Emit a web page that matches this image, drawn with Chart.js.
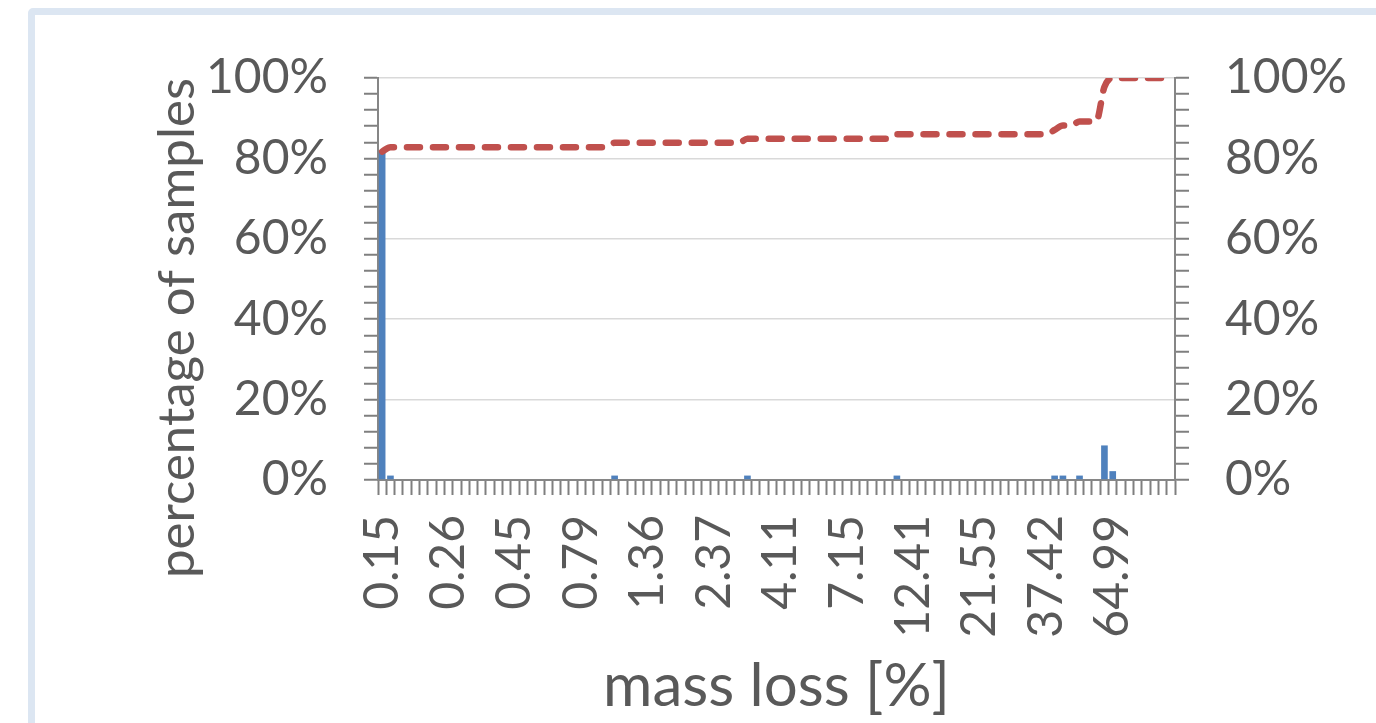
<!DOCTYPE html>
<html>
<head>
<meta charset="utf-8">
<script src="https://cdn.jsdelivr.net/npm/chart.js@4"></script>
<style>
  html, body { margin: 0; padding: 0; background: #fff; overflow: hidden; }
  #frame {
    position: absolute; left: 28px; top: 8px; width: 1420px; height: 800px;
    border: 7px solid #dce6f2; border-radius: 5px; box-sizing: border-box;
  }
  #c { position: absolute; left: 0; top: 0; }
</style>
</head>
<body>
<div id="frame"></div>
<canvas id="c" width="1376" height="723"></canvas>
<script>
// Mass-loss histogram: share of samples per bin (bars) and cumulative share (dashed line)
const tickLabels = ['0.15', '0.26', '0.45', '0.79', '1.36', '2.37', '4.11', '7.15', '12.41', '21.55', '37.42', '64.99'];
const binCount = 96;
const labelEvery = 8;

// percentage of samples in each bin
const binShare = [
  81.7, 1.1, 0, 0, 0, 0, 0, 0,
  0, 0, 0, 0, 0, 0, 0, 0,
  0, 0, 0, 0, 0, 0, 0, 0,
  0, 0, 0, 0, 1.1, 0, 0, 0,
  0, 0, 0, 0, 0, 0, 0, 0,
  0, 0, 0, 0, 1.1, 0, 0, 0,
  0, 0, 0, 0, 0, 0, 0, 0,
  0, 0, 0, 0, 0, 0, 1.1, 0,
  0, 0, 0, 0, 0, 0, 0, 0,
  0, 0, 0, 0, 0, 0, 0, 0,
  0, 1.1, 1.1, 0, 1.1, 0, 0, 8.6,
  2.2, 0, 0, 0, 0, 0, 0, 0
];

// cumulative percentage of samples
const cumulativeShare = [
  81.7, 82.8, 82.8, 82.8, 82.8, 82.8, 82.8, 82.8,
  82.8, 82.8, 82.8, 82.8, 82.8, 82.8, 82.8, 82.8,
  82.8, 82.8, 82.8, 82.8, 82.8, 82.8, 82.8, 82.8,
  82.8, 82.8, 82.8, 82.8, 83.9, 83.9, 83.9, 83.9,
  83.9, 83.9, 83.9, 83.9, 83.9, 83.9, 83.9, 83.9,
  83.9, 83.9, 83.9, 83.9, 84.9, 84.9, 84.9, 84.9,
  84.9, 84.9, 84.9, 84.9, 84.9, 84.9, 84.9, 84.9,
  84.9, 84.9, 84.9, 84.9, 84.9, 84.9, 86.0, 86.0,
  86.0, 86.0, 86.0, 86.0, 86.0, 86.0, 86.0, 86.0,
  86.0, 86.0, 86.0, 86.0, 86.0, 86.0, 86.0, 86.0,
  86.0, 87.1, 88.2, 88.2, 89.2, 89.2, 89.2, 97.8,
  100, 100, 100, 100, 100, 100, 100, 100
];

// one category per bin; only every 8th bin carries a printed label
const categories = [];
for (let i = 0; i < binCount; i++) {
  categories.push(i % labelEvery === 0 ? tickLabels[i / labelEvery] : '');
}

const FONT = 'Lato';
const TEXT = '#595959';
const AXIS = '#868686';
const TICK = '#7f7f7f';
const TICK_SIZE = 48;

function percentAxis(position, drawGrid) {
  return {
    type: 'linear',
    position: position,
    min: 0,
    max: 100,
    afterFit: (s) => { s.width = position === 'left' ? 378 : 201; },
    ticks: {
      stepSize: 4,
      autoSkip: false,
      padding: 36,
      color: TEXT,
      font: { family: FONT, size: TICK_SIZE },
      callback: (v) => (v % 20 === 0 ? v + '%' : '')
    },
    grid: {
      drawOnChartArea: drawGrid,
      color: (ctx) => (ctx.tick && ctx.tick.value % 20 === 0 ? '#d9d9d9' : 'rgba(0,0,0,0)'),
      lineWidth: 1.5,
      tickColor: TICK,
      tickWidth: 2,
      tickLength: 14
    },
    border: { display: true, color: AXIS, width: 2 }
  };
}

// vertical axis title, centred beside the left axis
const yTitle = {
  id: 'yTitle',
  afterDraw(chart) {
    const ctx = chart.ctx;
    ctx.save();
    ctx.translate(178, 328);
    ctx.rotate(-Math.PI / 2);
    ctx.fillStyle = TEXT;
    ctx.font = '51px ' + FONT;
    ctx.textAlign = 'center';
    ctx.textBaseline = 'middle';
    ctx.fillText('percentage of samples', 0, 0);
    ctx.restore();
  }
};

new Chart(document.getElementById('c'), {
  type: 'bar',
  data: {
    labels: categories,
    datasets: [
      {
        type: 'line',
        data: cumulativeShare,
        yAxisID: 'y2',
        borderColor: '#c0504d',
        borderWidth: 6.5,
        borderDash: [13, 13],
        borderCapStyle: 'round',
        borderJoinStyle: 'round',
        cubicInterpolationMode: 'monotone',
        pointRadius: 0,
        fill: false,
        order: 0
      },
      {
        type: 'bar',
        data: binShare,
        yAxisID: 'y',
        backgroundColor: '#4f81bd',
        borderWidth: 0,
        barPercentage: 0.8,
        categoryPercentage: 1,
        order: 1
      }
    ]
  },
  options: {
    responsive: false,
    animation: false,
    layout: { padding: { top: 78, left: 0, right: 0, bottom: 0 } },
    plugins: { legend: { display: false }, tooltip: { enabled: false } },
    scales: {
      x: {
        type: 'category',
        offset: true,
        afterFit: (s) => { s.height = 243; },
        ticks: {
          autoSkip: false,
          maxRotation: 90,
          minRotation: 90,
          padding: 20,
          color: TEXT,
          font: { family: FONT, size: TICK_SIZE }
        },
        grid: {
          offset: true,
          drawOnChartArea: false,
          tickColor: TICK,
          tickWidth: 2,
          tickLength: 15
        },
        border: { display: true, color: AXIS, width: 2 },
        title: {
          display: true,
          text: 'mass loss [%]',
          color: TEXT,
          font: { family: FONT, size: 60, lineHeight: 1.2 },
          padding: { top: 0, bottom: 0 }
        }
      },
      y: percentAxis('left', true),
      y2: percentAxis('right', false)
    }
  },
  plugins: [yTitle]
});
</script>
</body>
</html>
